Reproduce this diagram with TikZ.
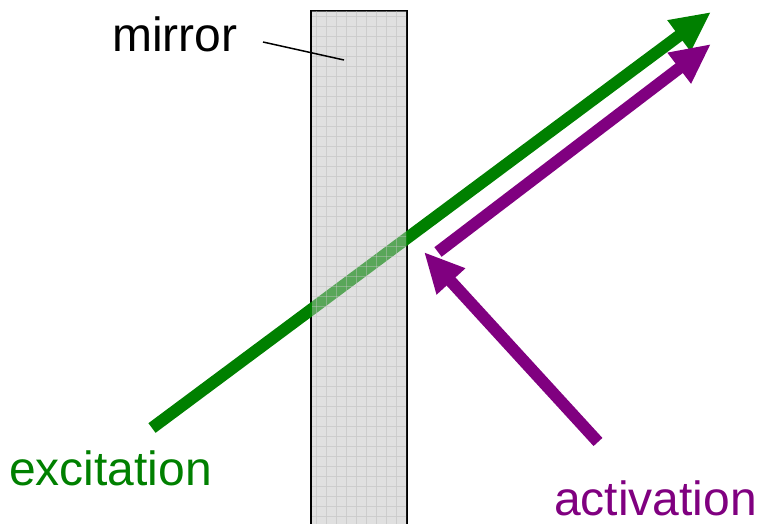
\documentclass[tikz,border=0pt]{standalone}
\usepackage{fontspec}
\setmainfont{Liberation Sans}
\usetikzlibrary{arrows.meta}
\definecolor{beamgreen}{RGB}{0,128,0}
\definecolor{beampurple}{RGB}{128,0,128}
\definecolor{glass}{RGB}{224,224,224}
\definecolor{glassgrid}{RGB}{200,200,200}
\begin{document}
\begin{tikzpicture}[x=1pt,y=-1pt,
  beam/.style={line width=12pt,
    -{Triangle[length=40pt,width=36pt]}},
  lbl/.style={inner sep=0pt,anchor=base west,font=\fontsize{48}{48}\selectfont}]
\useasboundingbox (0,0) rectangle (758,524);
% mirror body with its fine grid
\fill[glass] (311,11) rectangle (407,530);
\begin{scope}
  \clip (311,11) rectangle (407,530);
  \foreach \gx in {316,326,...,406} \draw[glassgrid,line width=0.8pt] (\gx,0) -- (\gx,530);
  \foreach \gy in {16,26,...,526} \draw[glassgrid,line width=0.8pt] (300,\gy) -- (420,\gy);
\end{scope}
\draw[line width=2pt] (311,530) -- (311,11) -- (407,11) -- (407,530);
% beams
\coordinate (g0) at (152,428);
\coordinate (g1) at (711,12);
\coordinate (p0) at (438,252);
\coordinate (p1) at (711,44);
\coordinate (q0) at (598,442);
\coordinate (q1) at (424,252);
\draw[beam,beamgreen] (g0) -- (g1);
\draw[beam,beampurple] (p0) -- (p1);
\draw[beam,beampurple] (q0) -- (q1);
% the glass tints the part of the green beam inside it
\begin{scope}
  \clip (312,12) rectangle (406,530);
  \fill[glass,opacity=0.4] (311,11) rectangle (407,530);
  \foreach \gx in {316,326,...,406} \draw[glassgrid,opacity=0.4,line width=0.8pt] (\gx,0) -- (\gx,530);
  \foreach \gy in {16,26,...,526} \draw[glassgrid,opacity=0.4,line width=0.8pt] (300,\gy) -- (420,\gy);
\end{scope}
% labels
\node[lbl] (mirror) at (112,52) {mirror};
\coordinate (mtip) at (344,60);
\draw[line width=1.5pt] (263,42) -- (mtip);
\node[lbl,text=beamgreen] (exc) at (9,485) {excitation};
\node[lbl,text=beampurple] (act) at (554,515) {activation};
\end{tikzpicture}
\end{document}
